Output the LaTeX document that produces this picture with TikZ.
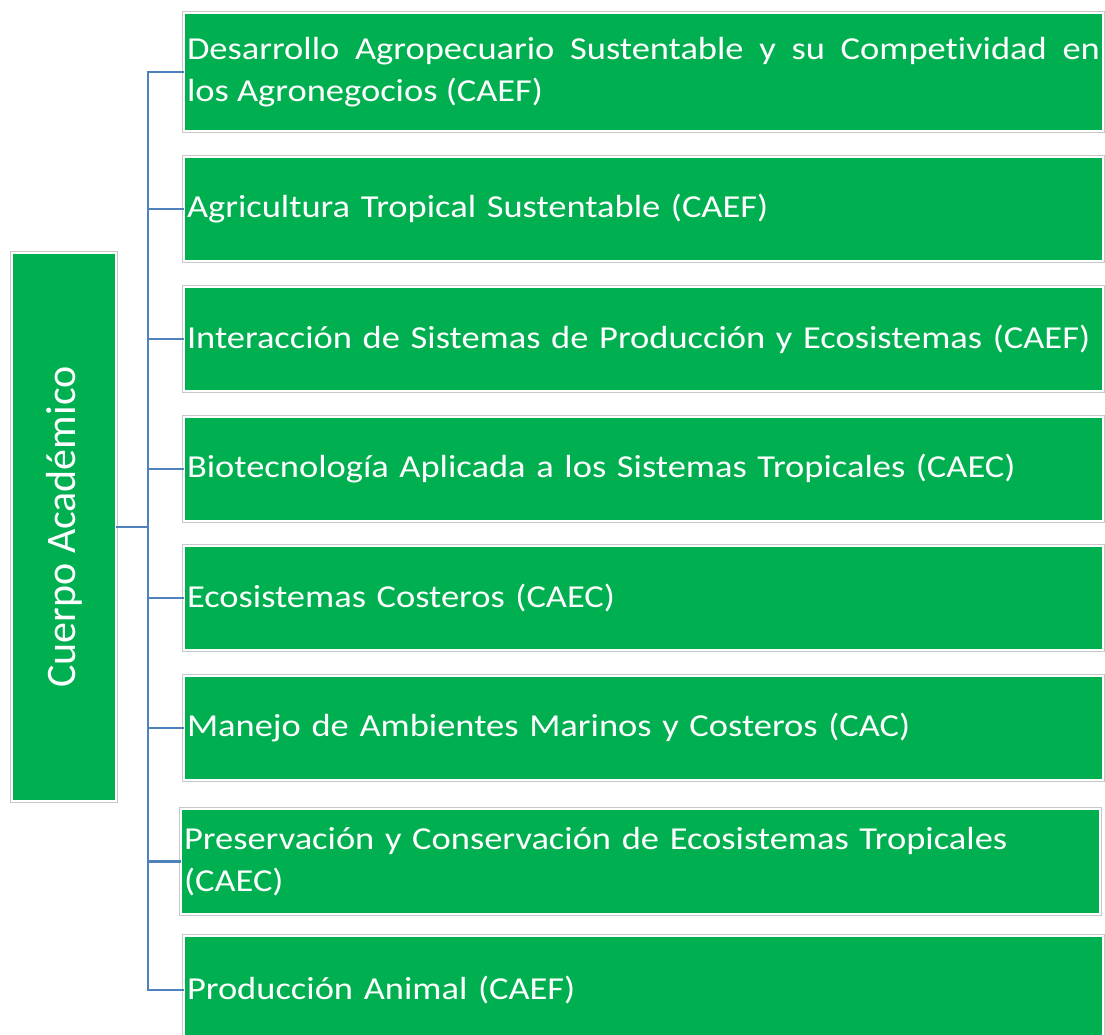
\documentclass[tikz,border=0pt]{standalone}
\usepackage{fontspec}
\usepackage{graphicx}
\setmainfont{Carlito}
\newfontfamily\boxfont[FakeStretch=1.14, Ligatures=NoCommon]{Carlito}
\usetikzlibrary{calc}
\hyphenpenalty=10000
\exhyphenpenalty=10000

\definecolor{cagreen}{HTML}{00B050}
\definecolor{linkblue}{HTML}{4F81BD}
\definecolor{edgegray}{HTML}{C8C8C8}

\tikzset{
  box/.style={fill=cagreen, draw=white, line width=1.5pt,
    preaction={draw=edgegray, line width=3.5pt},
    text=white, inner xsep=3pt, inner ysep=0pt, outer sep=0pt},
  area/.style={box, anchor=north west, text width=913pt, minimum height=104pt,
    font=\boxfont\fontsize{32}{42}\selectfont, align=left},
  link/.style={draw=linkblue, line width=2.5pt}
}

\begin{document}
\begin{tikzpicture}[x=1pt, y=-1pt]
        \useasboundingbox (0,0) rectangle (1105,1034);

        % cuerpo academico
        \node[box, minimum width=104pt, minimum height=548pt, font=\fontsize{42}{48}\selectfont] (root) at (64,527) {\rotatebox{90}{Cuerpo Académico}};

        % lineas
        \node[area, minimum height=118pt, align=justify] (b1) at (184,13) {Desarrollo Agropecuario Sustentable y su Competividad en\linebreak los Agronegocios (CAEF)};
        \node[area] (b2) at (184,157) {Agricultura Tropical Sustentable (CAEF)};
        \node[area] (b3) at (184,287) {Interacción de Sistemas de Producción y Ecosistemas (CAEF)};
        \node[area] (b4) at (184,417) {Biotecnología Aplicada a los Sistemas Tropicales (CAEC)};
        \node[area] (b5) at (184,546) {Ecosistemas Costeros (CAEC)};
        \node[area] (b6) at (184,676) {Manejo de Ambientes Marinos y Costeros (CAC)};
        \node[area, minimum height=105pt] (b7) at (181,809) {Preservación y Conservación de Ecosistemas Tropicales (CAEC)};
        \node[area, minimum height=108pt] (b8) at (184,936) {Producción Animal (CAEF)};

        \coordinate (trunk) at (148,527);
        \draw[link] (root.east) -- (trunk) |- (b1.west);
        \draw[link] (root.east) -- (trunk) |- (b2.west);
        \draw[link] (root.east) -- (trunk) |- (b3.west);
        \draw[link] (root.east) -- (trunk) |- (b4.west);
        \draw[link] (root.east) -- (trunk) |- (b5.west);
        \draw[link] (root.east) -- (trunk) |- (b6.west);
        \draw[link] (root.east) -- (trunk) |- (b7.west);
        \draw[link] (root.east) -- (trunk) |- (b8.west);
    \end{tikzpicture}
\end{document}
